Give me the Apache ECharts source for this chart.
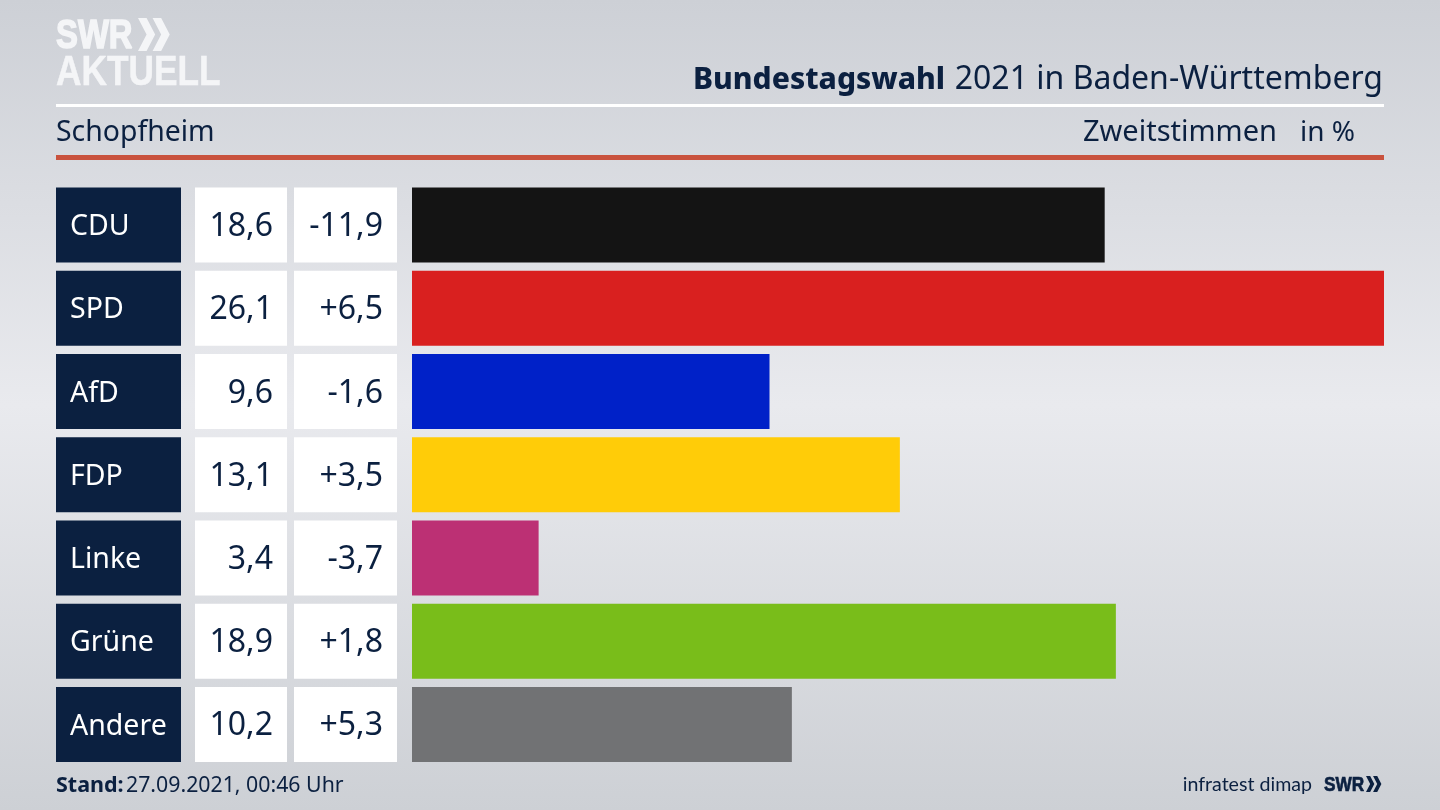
<!DOCTYPE html>
<html lang="de">

<head>
    <meta charset="UTF-8">
    <title>Bundestagswahl 2021 in Baden-Württemberg</title>
    <script src="https://cdn.jsdelivr.net/npm/echarts@6/dist/echarts.min.js"></script>
    <style>
        html, body { margin: 0; padding: 0; }
        #main { width: 1440px; height: 810px; }
    </style>
</head>

<body>
    <div id="main"></div>
    <script>
        // Data
        const parties = ['CDU', 'SPD', 'AfD', 'FDP', 'Linke', 'Grüne', 'Andere'];
        const shares = [18.6, 26.1, 9.6, 13.1, 3.4, 18.9, 10.2];
        const changes = ['-11,9', '+6,5', '-1,6', '+3,5', '-3,7', '+1,8', '+5,3'];
        const partyColors = ['#141414', '#d9201f', '#0021c8', '#ffcc08', '#bc3074', '#79bd1a', '#717274'];

        const navy = '#0b2040';
        const font = '"Noto Sans", sans-serif';
        const logoFont = '"Liberation Sans", sans-serif';
        const rowTop = 183.4;
        const rowsHeight = 582.6;
        const barHeight = 75;

        const shareLabels = shares.map(v => v.toFixed(1).replace('.', ','));

        // One grid per column, they all share the same rows
        const columns = [
            { left: 56, width: 125 },
            { left: 195, width: 92 },
            { left: 294, width: 103 },
            { left: 412, width: 972 }
        ];

        // Table cells: a full-width bar in each row that carries the text
        function cellSeries(index, texts, color, position, size, textColor) {
            return {
                type: 'bar',
                xAxisIndex: index,
                yAxisIndex: index,
                barWidth: barHeight,
                silent: true,
                data: texts.map(() => 1),
                itemStyle: { color: color },
                label: {
                    show: true,
                    position: position,
                    distance: 14,
                    offset: [0, 2],
                    color: textColor,
                    fontFamily: font,
                    fontSize: size,
                    formatter: p => texts[p.dataIndex]
                }
            };
        }

        function text(x, y, str, size, align, extra) {
            return {
                type: 'text',
                x: x,
                y: y,
                style: Object.assign({
                    text: str,
                    fontFamily: font,
                    fontSize: size,
                    fill: navy,
                    align: align,
                    verticalAlign: 'middle'
                }, extra || {})
            };
        }

        // condensed bold lettering of the logo
        function logoText(x, y, str, size, color, strokeWidth) {
            const el = text(x, y, str, size, 'left', {
                fill: color,
                stroke: color,
                lineWidth: strokeWidth,
                fontWeight: 700,
                fontFamily: logoFont
            });
            el.scaleX = 0.82;
            return el;
        }

        // the double arrow of the SWR logo
        function chevrons(x, y, h, color) {
            const w = h * 0.52;
            const arrow = dx => ({
                type: 'polygon',
                shape: {
                    points: [[x + dx, y], [x + dx + w * 0.5, y], [x + dx + w, y + h / 2],
                             [x + dx + w * 0.5, y + h], [x + dx, y + h], [x + dx + w * 0.5, y + h / 2]]
                },
                style: { fill: color }
            });
            return [arrow(0), arrow(w * 0.85)];
        }

        const chart = echarts.init(document.getElementById('main'));

        chart.setOption({
            animation: false,
            backgroundColor: {
                type: 'linear', x: 0, y: 0, x2: 0, y2: 1,
                colorStops: [
                    { offset: 0, color: '#cdd0d6' },
                    { offset: 0.5, color: '#e9eaee' },
                    { offset: 1, color: '#cdd0d5' }
                ]
            },
            grid: columns.map(c => ({ left: c.left, width: c.width, top: rowTop, height: rowsHeight })),
            xAxis: columns.map((c, i) => ({
                gridIndex: i,
                type: 'value',
                min: 0,
                max: i === 3 ? 26.1 : 1,
                show: false
            })),
            yAxis: columns.map((c, i) => ({
                gridIndex: i,
                type: 'category',
                inverse: true,
                data: parties,
                show: false
            })),
            series: [
                cellSeries(0, parties, navy, 'insideLeft', 28.5, '#ffffff'),
                cellSeries(1, shareLabels, '#ffffff', 'insideRight', 32, navy),
                cellSeries(2, changes, '#ffffff', 'insideRight', 32, navy),
                {
                    type: 'bar',
                    xAxisIndex: 3,
                    yAxisIndex: 3,
                    barWidth: barHeight,
                    silent: true,
                    data: shares.map((v, i) => ({ value: v, itemStyle: { color: partyColors[i] } }))
                }
            ],
            graphic: [
                // logo
                logoText(56, 37, 'SWR', 40, '#f4f5f7', 1.5),
                ...chevrons(138, 18, 33, '#f4f5f7'),
                logoText(56, 73, 'AKTUELL', 43, '#f4f5f7', 0.5),

                // header
                text(693, 80, 'Bundestagswahl', 30, 'left', { fontWeight: 800 }),
                text(1383, 80, '2021 in Baden-Württemberg', 32, 'right'),
                { type: 'rect', shape: { x: 56, y: 104, width: 1328, height: 3 }, style: { fill: '#ffffff' } },
                text(56, 133, 'Schopfheim', 28.4, 'left'),
                text(1277, 133, 'Zweitstimmen', 29, 'right'),
                text(1355, 133, 'in %', 28, 'right'),
                { type: 'rect', shape: { x: 56, y: 155, width: 1328, height: 5 }, style: { fill: '#c9523e' } },

                // footer
                text(56, 786, 'Stand:', 21.5, 'left', { fontWeight: 700 }),
                text(126, 786, '27.09.2021, 00:46 Uhr', 21.3, 'left'),
                text(1312, 785, 'infratest dimap', 19.6, 'right', { fontFamily: 'Lato, sans-serif' }),
                logoText(1324, 785, 'SWR', 21, navy, 0.7),
                ...chevrons(1366, 776, 16, navy)
            ]
        });
    </script>
</body>

</html>
